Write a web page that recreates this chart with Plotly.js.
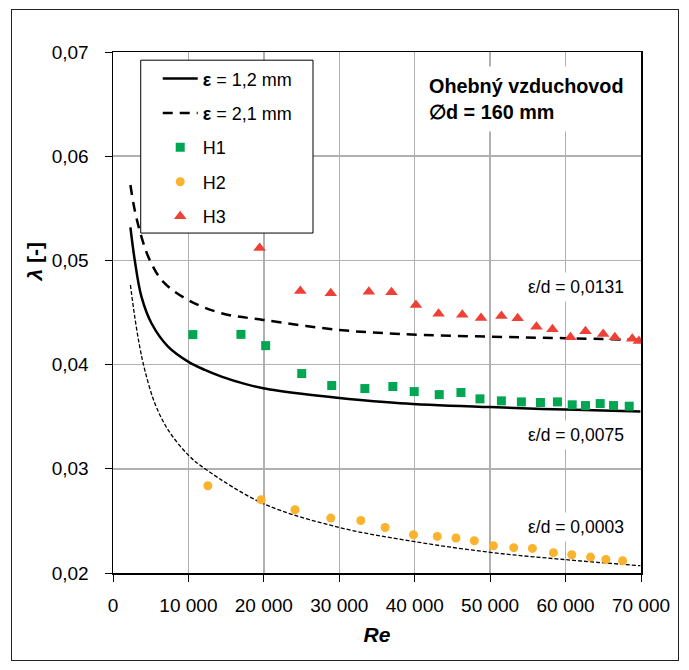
<!DOCTYPE html>
<html>
<head>
<meta charset="utf-8">
<script src="https://cdn.plot.ly/plotly-3.0.1.min.js"></script>
<style>
  html, body { margin: 0; padding: 0; background: #fff; }
  #wrap { position: relative; width: 689px; height: 670px; }
  #chart { position: absolute; left: 0; top: 0; width: 689px; height: 670px; }
  #frame { position: absolute; left: 11px; top: 9px; width: 668px; height: 652px;
           border: 1px solid #222; box-sizing: border-box; pointer-events: none; }
</style>
</head>
<body>
<div id="wrap"><div id="chart"></div><div id="frame"></div></div>
<script>
// ---- data ----
// Colebrook curves
const reSolid   = [2310, 2880, 3770, 5100, 7300, 9960, 12170, 14390, 17480, 19910, 25000, 30000, 38060, 50000, 60000, 69920];
const lamSolid  = [0.05317, 0.05004, 0.04652, 0.04397, 0.04173, 0.04029, 0.03949, 0.03885, 0.03815, 0.03774, 0.03720, 0.03680, 0.03630, 0.03592, 0.03568, 0.03549];

const reDash    = [2310, 2880, 3770, 4870, 6640, 9960, 14390, 19910, 30000, 38060, 50000, 60000, 69920];
const lamDash   = [0.05723, 0.05483, 0.05227, 0.05004, 0.04796, 0.04620, 0.04493, 0.04429, 0.04333, 0.04294, 0.04268, 0.04253, 0.04237];

const reThin    = [2310, 2880, 3540, 4210, 5540, 7300, 9960, 12390, 20000, 30000, 39830, 50000, 60000, 69920];
const lamThin   = [0.04764, 0.04460, 0.04173, 0.03949, 0.03630, 0.03374, 0.03134, 0.02990, 0.02664, 0.02437, 0.02303, 0.02198, 0.02128, 0.02070];

// measured points
const reH1  = [10585, 16960, 20240, 25020, 29000, 33390, 37100, 39930, 43250, 46130, 48650, 51490, 54140, 56670, 58920, 60880, 62640, 64590, 66360, 68440];
const lamH1 = [0.04288, 0.04290, 0.04182, 0.03914, 0.03799, 0.03770, 0.03790, 0.03741, 0.03712, 0.03732, 0.03671, 0.03652, 0.03642, 0.03636, 0.03642, 0.03614, 0.03607, 0.03626, 0.03607, 0.03601];

const reH2  = [12580, 19650, 24130, 28870, 32850, 36080, 39840, 42990, 45470, 47900, 50430, 53120, 55600, 58390, 60820, 63310, 65340, 67560];
const lamH2 = [0.02837, 0.02703, 0.02607, 0.02527, 0.02504, 0.02437, 0.02367, 0.02351, 0.02336, 0.02310, 0.02262, 0.02243, 0.02236, 0.02195, 0.02175, 0.02153, 0.02130, 0.02118];

const reH3  = [19440, 24830, 28870, 33920, 36920, 40160, 43160, 46310, 48790, 51490, 53650, 56140, 58260, 60650, 62640, 64990, 66530, 68840, 69720];
const lamH3 = [0.05120, 0.04707, 0.04685, 0.04700, 0.04694, 0.04572, 0.04489, 0.04479, 0.04448, 0.04467, 0.04445, 0.04364, 0.04339, 0.04263, 0.04320, 0.04294, 0.04263, 0.04247, 0.04227];

// tick labels
const xTickVals = [0, 10000, 20000, 30000, 40000, 50000, 60000, 70000];
const xTickText = ['0', '10 000', '20 000', '30 000', '40 000', '50 000', '60 000', '70 000'];
const yTickVals = [0.02, 0.03, 0.04, 0.05, 0.06, 0.07];
const yTickText = ['0,02', '0,03', '0,04', '0,05', '0,06', '0,07'];

// ---- chart ----
const FONT = 'Liberation Sans, Arial, sans-serif';
const traces = [
  { x: reThin, y: lamThin, mode: 'lines', showlegend: false, hoverinfo: 'skip',
    line: { color: '#000', width: 1.3, dash: '4px,2px', shape: 'spline' } },
  { x: reSolid, y: lamSolid, mode: 'lines', name: '<b>ε</b> = 1,2 mm', legendgroup: 'a',
    line: { color: '#000', width: 2.5, shape: 'spline' } },
  { x: reDash, y: lamDash, mode: 'lines', name: '<b>ε</b> = 2,1 mm', legendgroup: 'b',
    line: { color: '#000', width: 2.5, dash: '10px,7px', shape: 'spline' } },
  { x: reH1, y: lamH1, mode: 'markers', name: 'H1', legendgroup: 'c',
    marker: { symbol: 'square', color: '#00A651', size: 9 } },
  { x: reH2, y: lamH2, mode: 'markers', name: 'H2', legendgroup: 'd',
    marker: { symbol: 'circle', color: '#FBB22D', size: 9 } },
  { x: reH3, y: lamH3, mode: 'markers', name: 'H3', legendgroup: 'e',
    marker: { symbol: 'triangle-up', color: '#EE4036', size: 11 } }
];

const layout = {
  width: 689, height: 670,
  margin: { l: 113, r: 48, t: 52, b: 97 },
  paper_bgcolor: '#fff', plot_bgcolor: '#fff',
  font: { family: FONT, size: 19, color: '#000' },
  showlegend: true,
  legend: {
    x: 0.0525, y: 0.984, xanchor: 'left', yanchor: 'top',
    bgcolor: 'rgba(0,0,0,0)', borderwidth: 0,
    font: { family: FONT, size: 18, color: '#000' },
    tracegroupgap: 8, itemwidth: 35, indentation: 17
  },
  shapes: [
    { type: 'rect', xref: 'paper', yref: 'paper', layer: 'above',
      x0: 0.0525, x1: 0.3788, y0: 0.6525, y1: 0.9843,
      fillcolor: '#fff', line: { color: '#000', width: 1 } }
  ],
  xaxis: {
    range: [0, 70000], tickvals: xTickVals, ticktext: xTickText,
    ticks: 'outside', ticklen: 7, tickcolor: '#000', tickwidth: 1,
    ticklabelstandoff: 8,
    showline: true, linecolor: '#000', linewidth: 1.5, mirror: true,
    showgrid: true, gridcolor: '#b0b0b0', gridwidth: 1.5, zeroline: false,
    tickfont: { family: FONT, size: 19 },
    title: { text: '<b><i>Re</i></b>', font: { family: FONT, size: 21 }, standoff: 12 }
  },
  yaxis: {
    range: [0.02, 0.07], tickvals: yTickVals, ticktext: yTickText,
    ticks: 'outside', ticklen: 7, tickcolor: '#000', tickwidth: 1,
    ticklabelstandoff: 12,
    showline: true, linecolor: '#000', linewidth: 1.5, mirror: true,
    showgrid: true, gridcolor: '#b0b0b0', gridwidth: 1.5, zeroline: false,
    tickfont: { family: FONT, size: 19 }
  },
  annotations: [
    { xref: 'paper', yref: 'paper', x: -0.1485, y: 0.597, xanchor: 'center', yanchor: 'middle',
      text: '<b><i>λ</i> [-]</b>', textangle: -90, showarrow: false, font: { family: FONT, size: 21 } },
    { xref: 'paper', yref: 'paper', x: 0.582, y: 0.9095, xanchor: 'left', yanchor: 'middle', align: 'left',
      text: '<b>Ohebný vzduchovod<br>∅d = 160 mm</b>', showarrow: false, bgcolor: '#fff', borderpad: 8,
      font: { family: FONT, size: 19.8 } },
    { xref: 'paper', yref: 'paper', x: 0.9781, y: 0.549, xanchor: 'right', yanchor: 'middle',
      text: 'ε/d = 0,0131', showarrow: false, bgcolor: '#fff', borderpad: 4, font: { family: FONT, size: 17.5 } },
    { xref: 'paper', yref: 'paper', x: 0.9781, y: 0.2652, xanchor: 'right', yanchor: 'middle',
      text: 'ε/d = 0,0075', showarrow: false, bgcolor: '#fff', borderpad: 4, font: { family: FONT, size: 17.5 } },
    { xref: 'paper', yref: 'paper', x: 0.9781, y: 0.0888, xanchor: 'right', yanchor: 'middle',
      text: 'ε/d = 0,0003', showarrow: false, bgcolor: '#fff', borderpad: 4, font: { family: FONT, size: 17.5 } }
  ]
};

Plotly.newPlot('chart', traces, layout, { displayModeBar: false, staticPlot: true });
</script>
</body>
</html>
